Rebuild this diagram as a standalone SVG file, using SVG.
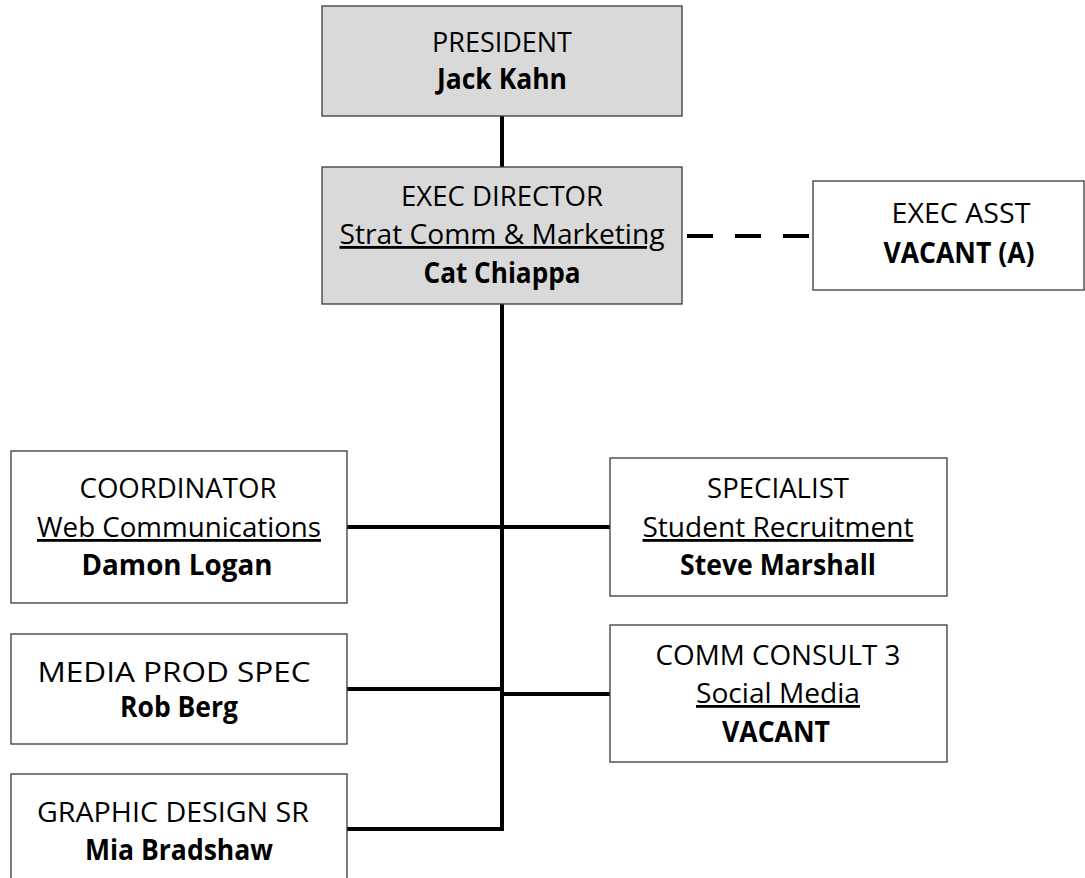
<svg xmlns="http://www.w3.org/2000/svg" width="1085" height="878" viewBox="0 0 1085 878">
<style>
.box{fill:#ffffff;stroke:#3a3a3a;stroke-width:1.3}
.gray{fill:#d9d9d9}
text{font-family:"Open Sans","Liberation Sans",sans-serif;font-size:28px;fill:#000;text-anchor:middle}
.b{font-weight:bold}
.u{text-decoration:underline}
.con{stroke:#000;stroke-width:4;fill:none;stroke-linecap:butt;stroke-linejoin:miter}
.dash{stroke-dasharray:26 22}
</style>
<rect width="1085" height="878" fill="#ffffff"/>
<g id="connectors">
<line class="con" x1="502" y1="116" x2="502" y2="167"/>
<line class="con dash" x1="687" y1="236" x2="813" y2="236"/>
<path class="con" d="M502 304 V829 H347"/>
<line class="con" x1="347" y1="527" x2="610" y2="527"/>
<line class="con" x1="347" y1="689" x2="502" y2="689"/>
<line class="con" x1="502" y1="694" x2="610" y2="694"/>
</g>
<g id="president">
<rect class="box gray" x="322" y="6" width="360" height="110"/>
<text x="502" y="52" textLength="140" lengthAdjust="spacingAndGlyphs">PRESIDENT</text>
<text class="b" x="502" y="89" textLength="130" lengthAdjust="spacingAndGlyphs">Jack Kahn</text>
</g>
<g id="exec-director">
<rect class="box gray" x="322" y="167" width="360" height="137"/>
<text x="502" y="206" textLength="202" lengthAdjust="spacingAndGlyphs">EXEC DIRECTOR</text>
<text class="u" x="502" y="244" textLength="325" lengthAdjust="spacingAndGlyphs">Strat Comm &amp; Marketing</text>
<text class="b" x="502" y="283" textLength="157" lengthAdjust="spacingAndGlyphs">Cat Chiappa</text>
</g>
<g id="exec-asst">
<rect class="box" x="813" y="181" width="271" height="109"/>
<text x="961" y="223" textLength="139" lengthAdjust="spacingAndGlyphs">EXEC ASST</text>
<text class="b" x="959" y="263" textLength="151" lengthAdjust="spacingAndGlyphs">VACANT (A)</text>
</g>
<g id="coordinator">
<rect class="box" x="11" y="451" width="336" height="152"/>
<text x="178" y="498" textLength="197" lengthAdjust="spacingAndGlyphs">COORDINATOR</text>
<text class="u" x="179" y="537" textLength="284" lengthAdjust="spacingAndGlyphs">Web Communications</text>
<text class="b" x="177" y="575" textLength="191" lengthAdjust="spacingAndGlyphs">Damon Logan</text>
</g>
<g id="media-prod-spec">
<rect class="box" x="11" y="634" width="336" height="110"/>
<text x="174" y="682" textLength="273" lengthAdjust="spacingAndGlyphs">MEDIA PROD SPEC</text>
<text class="b" x="179" y="717" textLength="118" lengthAdjust="spacingAndGlyphs">Rob Berg</text>
</g>
<g id="graphic-design-sr">
<rect class="box" x="11" y="774" width="336" height="120"/>
<text x="173" y="822" textLength="272" lengthAdjust="spacingAndGlyphs">GRAPHIC DESIGN SR</text>
<text class="b" x="179" y="860" textLength="188" lengthAdjust="spacingAndGlyphs">Mia Bradshaw</text>
</g>
<g id="specialist">
<rect class="box" x="610" y="458" width="337" height="138"/>
<text x="778" y="498" textLength="142" lengthAdjust="spacingAndGlyphs">SPECIALIST</text>
<text class="u" x="778" y="537" textLength="271" lengthAdjust="spacingAndGlyphs">Student Recruitment</text>
<text class="b" x="778" y="575" textLength="196" lengthAdjust="spacingAndGlyphs">Steve Marshall</text>
</g>
<g id="comm-consult-3">
<rect class="box" x="610" y="625" width="337" height="137"/>
<text x="778" y="665" textLength="245" lengthAdjust="spacingAndGlyphs">COMM CONSULT 3</text>
<text class="u" x="778" y="703" textLength="164" lengthAdjust="spacingAndGlyphs">Social Media</text>
<text class="b" x="776" y="742" textLength="108" lengthAdjust="spacingAndGlyphs">VACANT</text>
</g>
</svg>
